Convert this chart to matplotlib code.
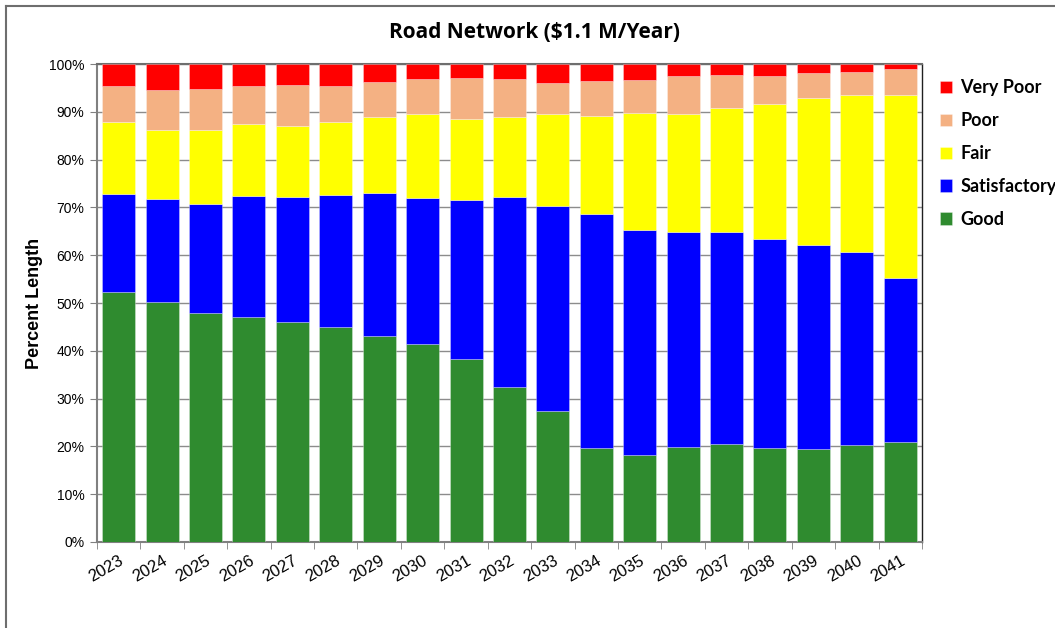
import matplotlib.pyplot as plt
from matplotlib.lines import Line2D
from matplotlib.ticker import FixedLocator, PercentFormatter

years = [str(y) for y in range(2023, 2042)]

# percent of network length in each condition
good = [52.3, 50.2, 47.9, 47.1, 46.0, 45.0, 43.1, 41.4, 38.3, 32.5,
        27.4, 19.7, 18.3, 19.9, 20.4, 19.7, 19.5, 20.3, 20.9]
satisfactory = [20.5, 21.5, 22.9, 25.2, 26.1, 27.5, 30.0, 30.5, 33.2, 39.6,
                42.8, 48.9, 47.0, 45.0, 44.5, 43.6, 42.6, 40.4, 34.3]
fair = [15.0, 14.5, 15.4, 15.2, 15.0, 15.3, 15.8, 17.6, 17.0, 16.8,
        19.3, 20.5, 24.4, 24.6, 26.0, 28.4, 30.8, 32.8, 38.3]
poor = [7.7, 8.4, 8.6, 8.0, 8.6, 7.7, 7.3, 7.3, 8.6, 7.9,
        6.5, 7.3, 6.9, 8.0, 6.8, 5.8, 5.2, 4.8, 5.5]
very_poor = [4.5, 5.4, 5.2, 4.5, 4.3, 4.5, 3.8, 3.2, 2.9, 3.2,
             4.0, 3.6, 3.4, 2.5, 2.3, 2.5, 1.9, 1.7, 1.0]

series = [
    ("Good", good, "#2F8B2F"),
    ("Satisfactory", satisfactory, "#0000FF"),
    ("Fair", fair, "#FFFF00"),
    ("Poor", poor, "#F4B183"),
    ("Very Poor", very_poor, "#FF0000"),
]

fig = plt.figure(figsize=(10.55, 6.28), dpi=100)
ax = fig.add_axes([0.0919, 0.137, 0.782, 0.761])

x = list(range(len(years)))
bottom = [0.0] * len(years)
handles = {}
for name, vals, color in series:
    bars = ax.bar(x, vals, width=0.76, bottom=bottom, color=color,
                  edgecolor=(1, 1, 1, 0.35), linewidth=0.6, zorder=3, label=name)
    handles[name] = bars
    bottom = [b + v for b, v in zip(bottom, vals)]

ax.set_xlim(-0.5, len(years) - 0.5)
ax.set_ylim(0, 100)

# gridlines
ax.set_yticks(range(0, 101, 10))
ax.yaxis.set_major_formatter(PercentFormatter(decimals=0))
ax.grid(axis="y", color="#8c8c8c", linewidth=1.0, zorder=0)
ax.tick_params(axis="y", direction="out", length=5, color="#808080",
               labelsize=10, pad=4)
for lbl in ax.get_yticklabels():
    lbl.set_family("Liberation Sans")

# x ticks: marks at category edges, labels at centres
ax.set_xticks(x)
ax.set_xticklabels(years, rotation=30, ha="right", va="top",
                   rotation_mode="anchor", family="Liberation Sans", fontsize=12)
ax.tick_params(axis="x", length=0, pad=8)
ax.xaxis.set_minor_locator(FixedLocator([i - 0.5 for i in range(len(years) + 1)]))
ax.tick_params(axis="x", which="minor", direction="out", length=5, color="#808080")

for side in ["left", "bottom"]:
    ax.spines[side].set_color("#808080")
    ax.spines[side].set_linewidth(1.5)
ax.spines["top"].set_color("#6e6e6e")
ax.spines["top"].set_linewidth(1.5)
ax.spines["right"].set_color("#202020")
ax.spines["right"].set_linewidth(1.0)

ax.set_ylabel("Percent Length", family="Liberation Sans", fontweight="bold",
              fontsize=13, labelpad=4)
fig.text(0.507, 0.948, "Road Network ($1.1 M/Year)", ha="center", va="center",
         family="Open Sans", fontweight="bold", fontsize=15)

order = ["Very Poor", "Poor", "Fair", "Satisfactory", "Good"]
leg = fig.legend([handles[n] for n in order], order, loc="upper left",
                 bbox_to_anchor=(0.882, 0.888), frameon=False,
                 prop={"family": "Lato", "weight": "bold", "size": 13},
                 handlelength=0.7, handleheight=0.7, handletextpad=0.45,
                 labelspacing=0.88, borderpad=0)

# outer chart border (top and left visible)
fig.add_artist(Line2D([6 / 1055, 1.0], [1 - 6 / 628, 1 - 6 / 628],
                      transform=fig.transFigure, color="#6e6e6e", linewidth=1.5))
fig.add_artist(Line2D([6 / 1055, 6 / 1055], [0.0, 1 - 6 / 628],
                      transform=fig.transFigure, color="#6e6e6e", linewidth=1.5))

fig.savefig("out.png", dpi=100)
